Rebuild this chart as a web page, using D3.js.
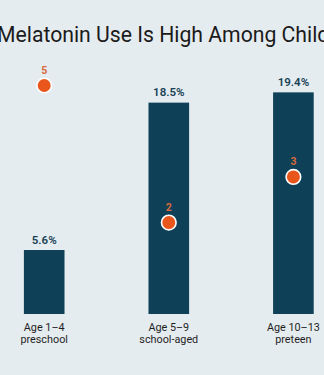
<!DOCTYPE html>
<html>
<head>
<meta charset="utf-8">
<script src="https://cdn.jsdelivr.net/npm/d3@7"></script>
<style>
  html, body { margin: 0; padding: 0; background: #e5ecef; }
  svg { display: block; }
</style>
</head>
<body>
<script>
// ---- data ----
const title = "Melatonin Use Is High Among Children";
const categories = ["Age 1–4", "Age 5–9", "Age 10–13"];
const subLabels = ["preschool", "school-aged", "preteen"];
const usePercent = [5.6, 18.5, 19.4];
const dotValues = [5, 2, 3];
const gridTicks = [0, 2, 4, 6, 8, 10, 12, 14, 16, 18, 20];

const W = 324, H = 375;
const svg = d3.select("body").append("svg").attr("width", W).attr("height", H);

svg.append("rect").attr("width", W).attr("height", H).attr("fill", "#e5ecef");

const baseY = 314, topY = 85.5;
const y = d3.scaleLinear().domain([0, 20]).range([baseY, topY]);
const y2 = d3.scaleLinear().domain([0, 5]).range([baseY, topY]);

const step = 124.6;
const x = d3.scaleBand().domain(categories)
  .range([44.2 - step / 2, 44.2 + step * 2.5])
  .paddingInner(0.674).paddingOuter(0.674 / 2);

// title (the reference is a crop of a wider chart, so the title runs off both edges)
svg.append("text")
  .attr("x", -3).attr("y", 41.5)
  .attr("font-family", "Roboto, 'Noto Sans', sans-serif")
  .attr("font-size", 21.2)
  .attr("fill", "#1b1b1b")
  .text(title);

// grid
const grid = d3.axisLeft(y).tickValues(gridTicks).tickSize(-W - 20).tickFormat("");
const g = svg.append("g").attr("transform", `translate(${W + 10},0)`).call(grid);
g.select(".domain").remove();
g.selectAll(".tick line").attr("stroke", "#cfd7db").attr("stroke-width", 1.5);

// bars
svg.append("g").selectAll("rect").data(categories).join("rect")
  .attr("x", d => x(d))
  .attr("width", x.bandwidth())
  .attr("y", (d, i) => y(usePercent[i]))
  .attr("height", (d, i) => baseY - y(usePercent[i]))
  .attr("fill", "#0e4158");

// value labels
svg.append("g").selectAll("text").data(categories).join("text")
  .attr("x", d => x(d) + x.bandwidth() / 2)
  .attr("y", (d, i) => y(usePercent[i]) - 6.5)
  .attr("text-anchor", "middle")
  .attr("font-family", "Roboto, sans-serif")
  .attr("font-size", 11.5)
  .attr("font-weight", 600)
  .attr("fill", "#173f55")
  .text((d, i) => usePercent[i].toFixed(1) + "%");

// dots
svg.append("g").selectAll("circle").data(categories).join("circle")
  .attr("cx", d => x(d) + x.bandwidth() / 2)
  .attr("cy", (d, i) => y2(dotValues[i]))
  .attr("r", 7.3)
  .attr("fill", "#e9561b")
  .attr("stroke", "#ffffff")
  .attr("stroke-width", 1.6);

svg.append("g").selectAll("text").data(categories).join("text")
  .attr("x", d => x(d) + x.bandwidth() / 2)
  .attr("y", (d, i) => y2(dotValues[i]) - 12)
  .attr("text-anchor", "middle")
  .attr("font-family", "Roboto, sans-serif")
  .attr("font-size", 10.5)
  .attr("font-weight", 700)
  .attr("fill", "#d8693a")
  .text((d, i) => dotValues[i]);

// category labels
const xl = svg.append("g").selectAll("text").data(categories).join("text")
  .attr("x", d => x(d) + x.bandwidth() / 2)
  .attr("y", 331)
  .attr("text-anchor", "middle")
  .attr("font-family", "Roboto, sans-serif")
  .attr("font-size", 10.8)
  .attr("font-weight", 400)
  .attr("fill", "#1f1f1f");
xl.append("tspan").attr("x", d => x(d) + x.bandwidth() / 2).text(d => d);
xl.append("tspan").attr("x", d => x(d) + x.bandwidth() / 2).attr("dy", 11.5).text((d, i) => subLabels[i]);
</script>
</body>
</html>
